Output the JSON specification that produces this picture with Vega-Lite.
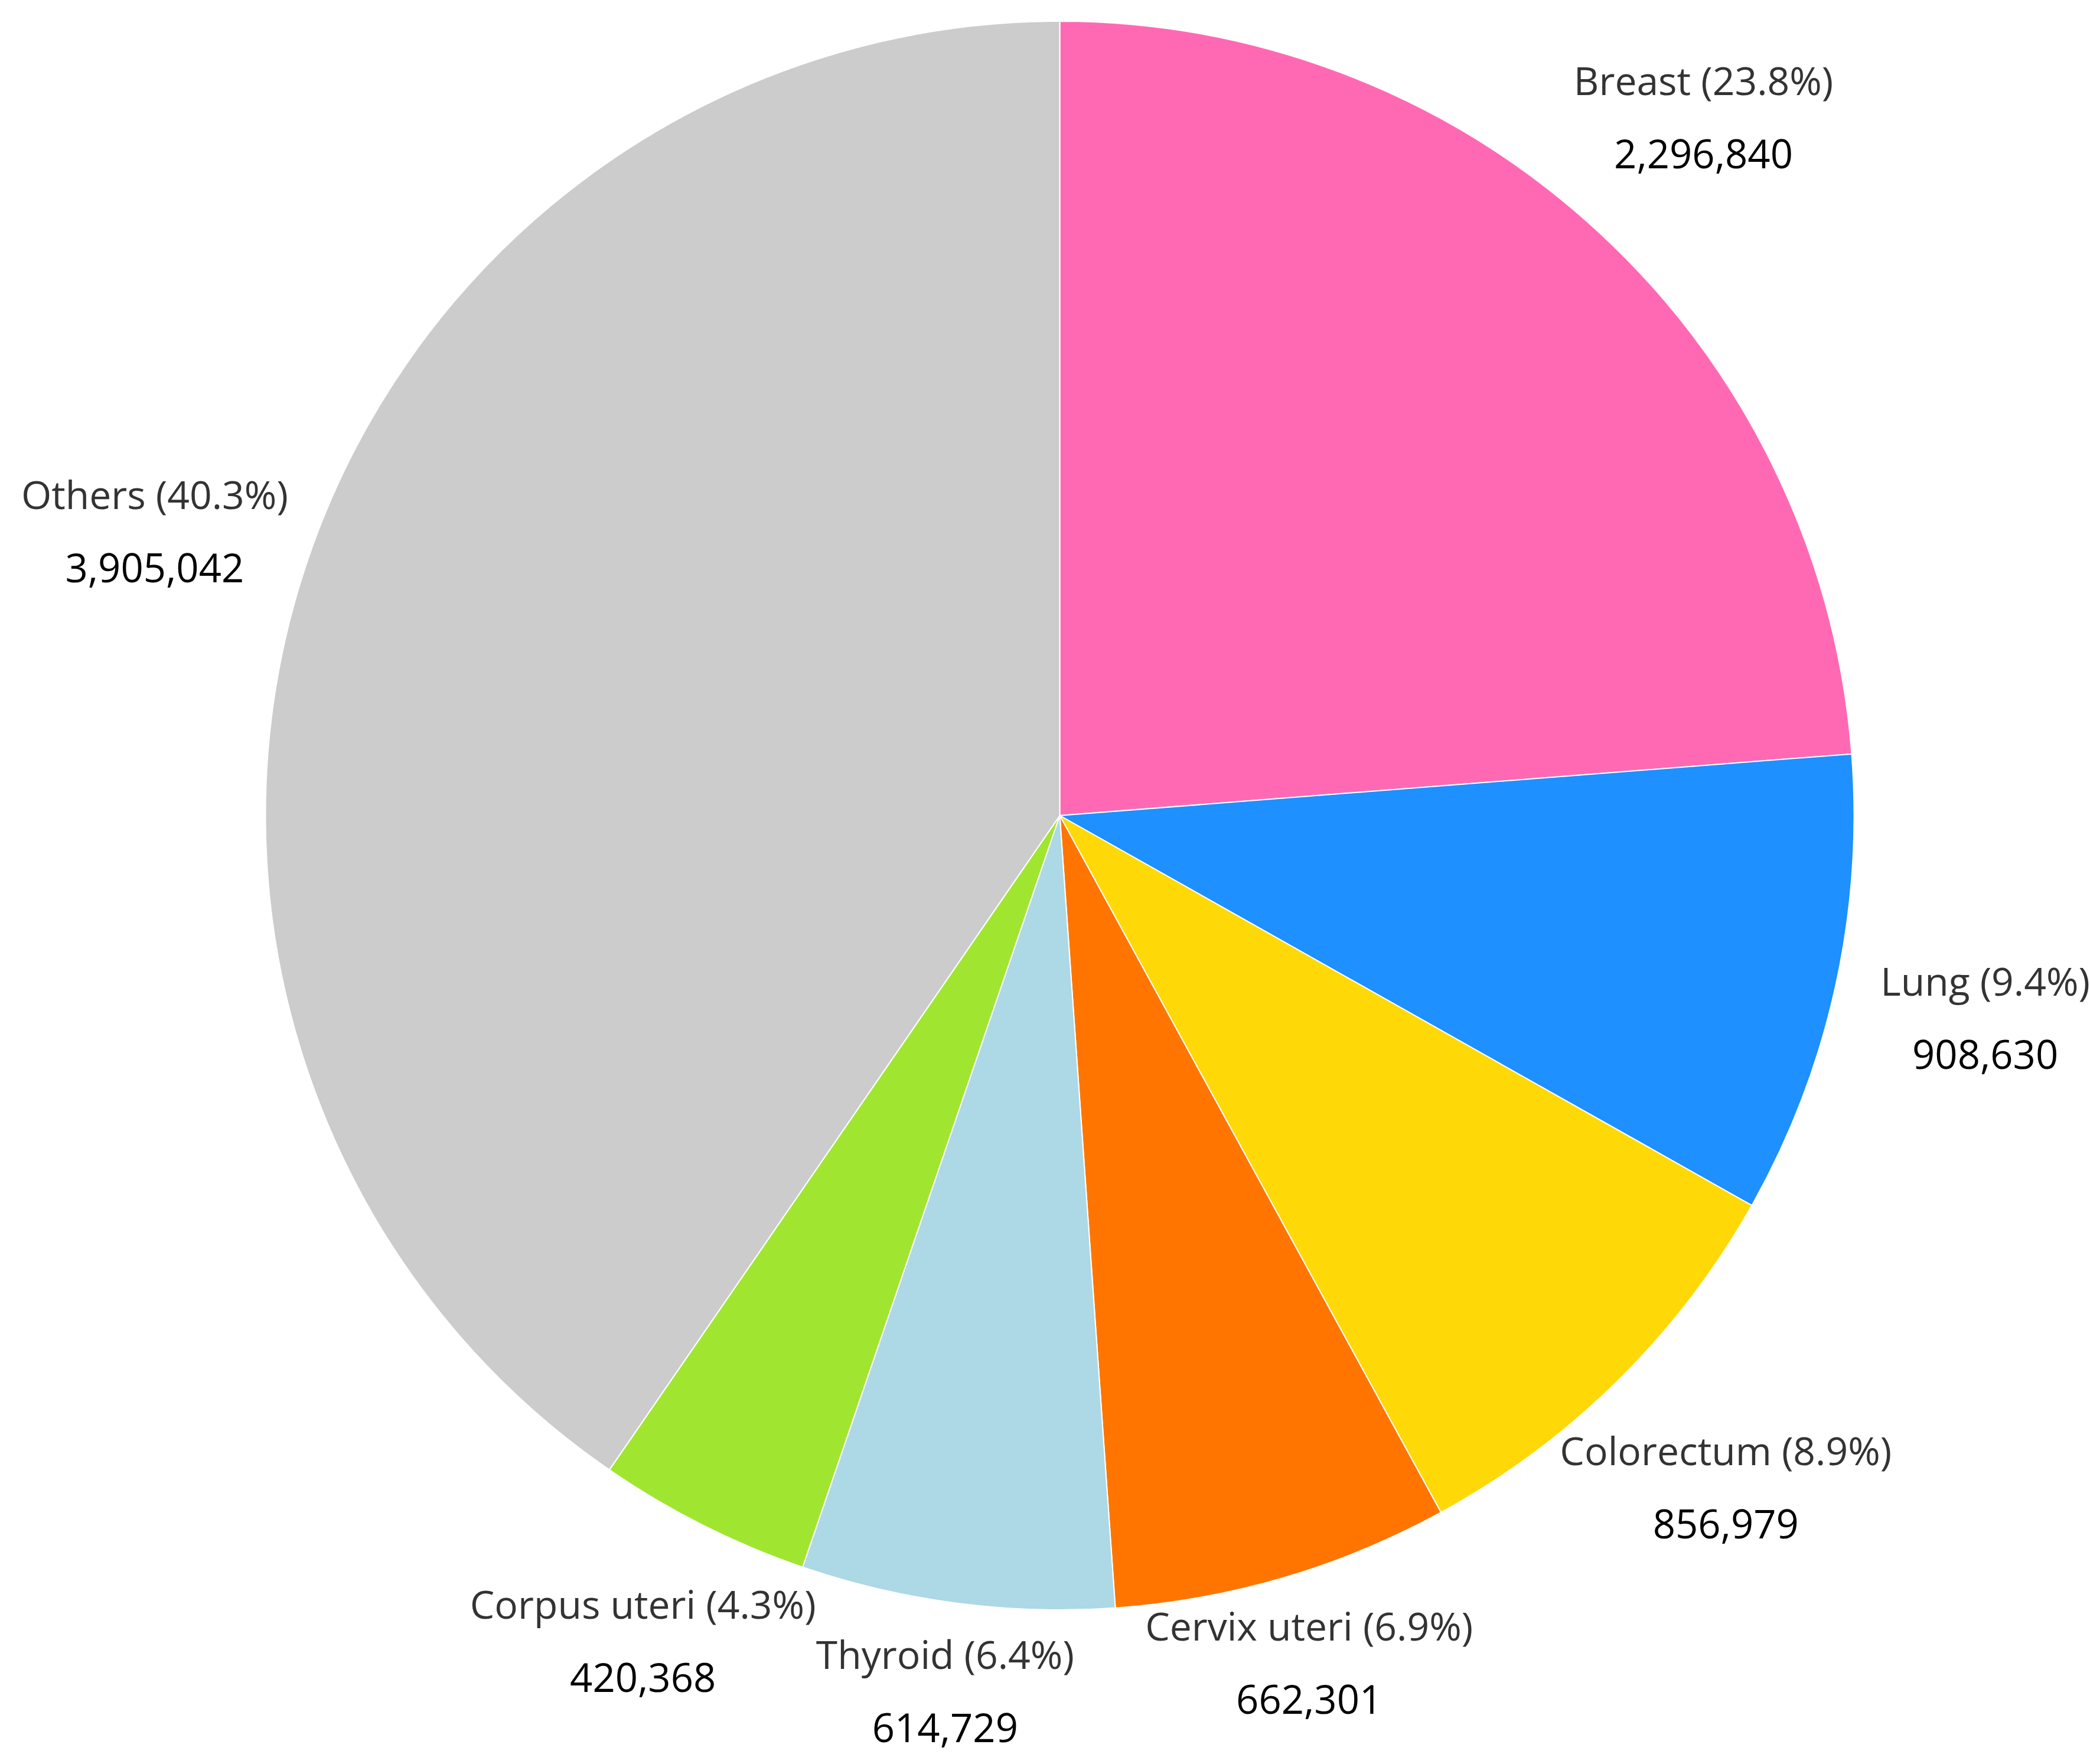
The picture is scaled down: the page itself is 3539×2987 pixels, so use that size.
{
  "$schema": "https://vega.github.io/schema/vega-lite/v6.json",
  "width": 3489,
  "height": 2762,
  "autosize": {"type": "none"},
  "padding": {"left": 50, "right": 0, "top": 0, "bottom": 225},
  "background": "white",
  "config": {"view": {"stroke": null}},
  "data": {
    "values": [
      {"site": "Breast", "label": "Breast (23.8%)", "value": 2296840, "order": 1},
      {"site": "Lung", "label": "Lung (9.4%)", "value": 908630, "order": 2},
      {"site": "Colorectum", "label": "Colorectum (8.9%)", "value": 856979, "order": 3},
      {"site": "Cervix uteri", "label": "Cervix uteri (6.9%)", "value": 662301, "order": 4},
      {"site": "Thyroid", "label": "Thyroid (6.4%)", "value": 614729, "order": 5},
      {"site": "Corpus uteri", "label": "Corpus uteri (4.3%)", "value": 420368, "order": 6},
      {"site": "Others", "label": "Others (40.3%)", "value": 3905042, "order": 7}
    ]
  },
  "encoding": {
    "theta": {"field": "value", "type": "quantitative", "stack": true},
    "order": {"field": "order", "type": "quantitative"}
  },
  "layer": [
    {
      "mark": {"type": "arc", "outerRadius": 1345, "stroke": "#ffffff", "strokeWidth": 2},
      "encoding": {
        "color": {
          "field": "site",
          "type": "nominal",
          "legend": null,
          "scale": {
            "domain": ["Breast", "Lung", "Colorectum", "Cervix uteri", "Thyroid", "Corpus uteri", "Others"],
            "range": ["#FF69B4", "#1E90FF", "#FFD808", "#FF7500", "#ADD8E6", "#A0E630", "#CCCCCC"]
          }
        }
      }
    },
    {
      "mark": {"type": "text", "radius": 1605, "dy": -62, "font": "Open Sans", "fontSize": 66, "color": "#333333"},
      "encoding": {
        "text": {"field": "label", "type": "nominal"},
        "opacity": {"condition": {"test": "indexof(['Breast','Lung','Colorectum','Others'], datum.site) >= 0", "value": 1}, "value": 0}
      }
    },
    {
      "mark": {"type": "text", "radius": 1605, "dy": 62, "font": "Open Sans", "fontSize": 67, "color": "#000000"},
      "encoding": {
        "text": {"field": "value", "type": "quantitative", "format": ",d"},
        "opacity": {"condition": {"test": "indexof(['Breast','Lung','Colorectum','Others'], datum.site) >= 0", "value": 1}, "value": 0}
      }
    },
    {
      "mark": {"type": "text", "radius": 1570, "dy": -62, "font": "Open Sans", "fontSize": 66, "color": "#333333"},
      "encoding": {
        "text": {"field": "label", "type": "nominal"},
        "opacity": {"condition": {"test": "datum.site == 'Corpus uteri'", "value": 1}, "value": 0}
      }
    },
    {
      "mark": {"type": "text", "radius": 1570, "dy": 62, "font": "Open Sans", "fontSize": 67, "color": "#000000"},
      "encoding": {
        "text": {"field": "value", "type": "quantitative", "format": ",d"},
        "opacity": {"condition": {"test": "datum.site == 'Corpus uteri'", "value": 1}, "value": 0}
      }
    },
    {
      "mark": {"type": "text", "radius": 1500, "dy": -62, "font": "Open Sans", "fontSize": 66, "color": "#333333"},
      "encoding": {
        "text": {"field": "label", "type": "nominal"},
        "opacity": {"condition": {"test": "datum.site == 'Cervix uteri' || datum.site == 'Thyroid'", "value": 1}, "value": 0}
      }
    },
    {
      "mark": {"type": "text", "radius": 1500, "dy": 62, "font": "Open Sans", "fontSize": 67, "color": "#000000"},
      "encoding": {
        "text": {"field": "value", "type": "quantitative", "format": ",d"},
        "opacity": {"condition": {"test": "datum.site == 'Cervix uteri' || datum.site == 'Thyroid'", "value": 1}, "value": 0}
      }
    }
  ]
}
